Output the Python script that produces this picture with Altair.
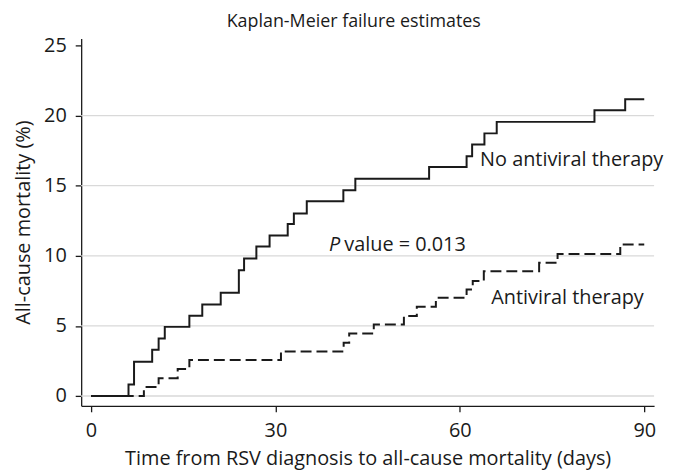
import altair as alt
import pandas as pd

# Kaplan-Meier step data (days, cumulative mortality %)
no_av_days = [0, 6.1, 7.0, 9.95, 11.0, 12.0, 16.0, 18.1, 21.1, 24.05, 24.9, 26.9, 29.05,
              32.0, 33.0, 35.1, 41.05, 43.0, 55.0, 61.1, 62.0, 64.0, 66.0, 81.9, 86.9, 90.0]
no_av_pct = [0, 0.82, 2.45, 3.3, 4.1, 4.93, 5.72, 6.53, 7.36, 8.97, 9.8, 10.66, 11.44,
             12.26, 13.02, 13.89, 14.67, 15.5, 16.33, 17.1, 17.93, 18.73, 19.55, 20.38, 21.16, 21.16]

av_days = [0, 8.6, 11.0, 14.1, 16.0, 30.9, 41.1, 42.0, 46.0, 50.9, 53.0, 56.1, 61.1,
           62.1, 63.9, 72.9, 75.9, 86.1, 90.0]
av_pct = [0, 0.64, 1.27, 1.93, 2.57, 3.18, 3.8, 4.45, 5.1, 5.7, 6.37, 7.0, 7.6,
          8.2, 8.9, 9.5, 10.13, 10.8, 10.8]

x_ticks = [0, 30, 60, 90]
y_ticks = [0, 5, 10, 15, 20, 25]
grid_vals = [0, 5, 10, 15, 20]

FONT = "Open Sans"
INK = "#1a1a1a"

xscale = alt.Scale(domain=[-1.6, 91.6], nice=False, zero=False)
yscale = alt.Scale(domain=[-0.7, 25.5], nice=False, zero=False)

df_no = pd.DataFrame({"day": no_av_days, "pct": no_av_pct})
df_av = pd.DataFrame({"day": av_days, "pct": av_pct})
df_grid = pd.DataFrame({"pct": grid_vals})

xaxis = alt.Axis(values=x_ticks, title="Time from RSV diagnosis to all-cause mortality (days)",
                 grid=False, labelPadding=9, titlePadding=8)
yaxis = alt.Axis(values=y_ticks, title="All-cause mortality (%)", grid=False,
                 labelPadding=9, titlePadding=10)

grid = alt.Chart(df_grid).mark_rule(color="#d9d9d9", strokeWidth=1.3).encode(
    y=alt.Y("pct:Q", scale=yscale, axis=yaxis)
)

solid = alt.Chart(df_no).mark_line(interpolate="step-after", color=INK, strokeWidth=2).encode(
    x=alt.X("day:Q", scale=xscale, axis=xaxis),
    y=alt.Y("pct:Q", scale=yscale, axis=yaxis),
)

dashed = alt.Chart(df_av).mark_line(interpolate="step-after", color=INK, strokeWidth=2,
                                    strokeDash=[11, 5]).encode(
    x=alt.X("day:Q", scale=xscale),
    y=alt.Y("pct:Q", scale=yscale),
)

labels = pd.DataFrame({
    "day": [63.3, 65.1, 41.2],
    "pct": [16.4, 6.53, 10.37],
    "label": ["No antiviral therapy", "Antiviral therapy", "value = 0.013"],
})
text = alt.Chart(labels).mark_text(align="left", baseline="alphabetic", font=FONT,
                                   fontSize=20, color=INK).encode(
    x=alt.X("day:Q", scale=xscale), y=alt.Y("pct:Q", scale=yscale), text="label:N"
)
ptext = alt.Chart(pd.DataFrame({"day": [38.7], "pct": [10.37], "label": ["P"]})).mark_text(
    align="left", baseline="alphabetic", font=FONT, fontSize=20, fontStyle="italic", color=INK
).encode(x=alt.X("day:Q", scale=xscale), y=alt.Y("pct:Q", scale=yscale), text="label:N")

chart = alt.layer(grid, solid, dashed, text, ptext).properties(
    width=577, height=370,
    title=alt.TitleParams("Kaplan-Meier failure estimates", font=FONT, fontSize=18,
                          fontWeight="normal", color=INK, anchor="middle", dx=-14, offset=5),
    autosize=alt.AutoSizeParams(type="none"),
    padding={"left": 73.7, "top": 29, "right": 12, "bottom": 66},
).configure_view(stroke=None).configure_axis(
    labelFont=FONT, titleFont=FONT, labelFontSize=20, titleFontSize=20,
    titleFontWeight="normal", labelColor=INK, titleColor=INK,
    domainColor=INK, domainWidth=1.3, tickColor=INK, tickWidth=1.3, tickSize=6,
)

chart.save("out.html", embed_options={"renderer": "svg", "actions": False})
